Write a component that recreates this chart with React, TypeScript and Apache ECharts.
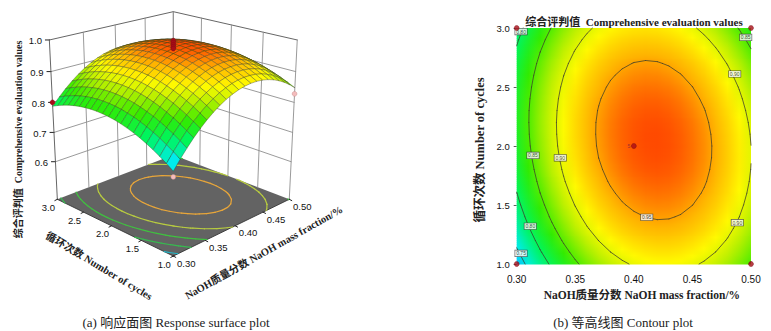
import React, { useEffect, useRef } from "react";
import * as echarts from "echarts";

const naohMass = [0.30,0.31,0.32,0.33,0.34,0.35,0.36,0.37,0.38,0.39,0.40,0.41,0.42,0.43,0.44,0.45,0.46,0.47,0.48,0.49,0.50];
const cycleCount = [1.0,1.1,1.2,1.3,1.4,1.5,1.6,1.7,1.8,1.9,2.0,2.1,2.2,2.3,2.4,2.5,2.6,2.7,2.8,2.9,3.0];
// one row per cycle count, one column per NaOH mass fraction
const evaluation = [
[.7303,.7578,.7829,.8059,.8266,.8450,.8612,.8750,.8866,.8959,.9029,.9076,.9101,.9103,.9082,.9038,.8971,.8882,.8770,.8635,.8477],
[.7449,.7722,.7972,.8200,.8405,.8587,.8747,.8883,.8997,.9088,.9156,.9201,.9224,.9224,.9202,.9156,.9087,.8996,.8882,.8745,.8585],
[.7583,.7854,.8102,.8328,.8532,.8712,.8870,.9004,.9116,.9205,.9272,.9315,.9336,.9334,.9309,.9261,.9190,.9098,.8982,.8843,.8681],
[.7704,.7974,.8220,.8444,.8645,.8824,.8980,.9112,.9222,.9310,.9374,.9415,.9434,.9431,.9404,.9354,.9281,.9187,.9069,.8928,.8764],
[.7813,.8081,.8325,.8548,.8747,.8923,.9078,.9208,.9316,.9402,.9464,.9503,.9521,.9515,.9486,.9435,.9360,.9263,.9144,.9001,.8836],
[.7910,.8175,.8418,.8638,.8836,.9010,.9162,.9291,.9397,.9481,.9541,.9579,.9594,.9587,.9556,.9502,.9426,.9327,.9206,.9061,.8894],
[.7994,.8258,.8498,.8717,.8912,.9085,.9235,.9362,.9466,.9548,.9606,.9642,.9656,.9646,.9614,.9558,.9480,.9379,.9256,.9109,.8940],
[.8066,.8328,.8566,.8783,.8977,.9147,.9296,.9421,.9523,.9603,.9660,.9693,.9705,.9694,.9659,.9602,.9522,.9419,.9294,.9146,.8974],
[.8125,.8385,.8622,.8837,.9028,.9197,.9344,.9467,.9567,.9645,.9700,.9732,.9741,.9728,.9692,.9633,.9550,.9446,.9319,.9169,.8995],
[.8173,.8431,.8665,.8878,.9068,.9235,.9380,.9501,.9599,.9675,.9728,.9758,.9766,.9751,.9713,.9651,.9567,.9461,.9332,.9180,.9005],
[.8207,.8463,.8696,.8907,.9095,.9260,.9403,.9522,.9618,.9692,.9743,.9771,.9777,.9760,.9720,.9657,.9571,.9463,.9332,.9178,.9001],
[.8229,.8483,.8714,.8923,.9109,.9272,.9413,.9530,.9626,.9698,.9747,.9773,.9777,.9758,.9716,.9651,.9563,.9453,.9320,.9164,.8985],
[.8239,.8491,.8721,.8928,.9112,.9273,.9412,.9527,.9621,.9691,.9738,.9762,.9764,.9743,.9699,.9633,.9543,.9431,.9296,.9138,.8957],
[.8237,.8487,.8714,.8919,.9102,.9261,.9398,.9511,.9603,.9671,.9716,.9738,.9739,.9716,.9670,.9601,.9510,.9396,.9259,.9099,.8917],
[.8222,.8470,.8696,.8899,.9079,.9237,.9372,.9483,.9573,.9639,.9682,.9703,.9701,.9676,.9629,.9558,.9464,.9349,.9210,.9048,.8864],
[.8194,.8440,.8664,.8865,.9044,.9199,.9333,.9442,.9530,.9594,.9636,.9654,.9650,.9624,.9574,.9502,.9406,.9289,.9148,.8985,.8798],
[.8154,.8399,.8620,.8820,.8996,.9150,.9282,.9389,.9475,.9537,.9577,.9593,.9588,.9559,.9508,.9434,.9336,.9217,.9074,.8909,.8720],
[.8103,.8345,.8565,.8762,.8937,.9089,.9218,.9324,.9408,.9468,.9506,.9521,.9513,.9483,.9430,.9353,.9254,.9133,.8988,.8821,.8630],
[.8038,.8278,.8496,.8692,.8865,.9014,.9142,.9246,.9328,.9386,.9422,.9435,.9426,.9393,.9338,.9260,.9159,.9035,.8889,.8720,.8528],
[.7961,.8200,.8416,.8610,.8780,.8928,.9054,.9156,.9236,.9293,.9326,.9337,.9326,.9292,.9235,.9155,.9052,.8926,.8778,.8607,.8413],
[.7871,.8108,.8322,.8514,.8683,.8829,.8953,.9053,.9131,.9186,.9218,.9227,.9214,.9178,.9118,.9036,.8931,.8804,.8654,.8481,.8285],
];
const contourLevels = [0.75, 0.80, 0.85, 0.90, 0.95];
const floorContourColors = ["#22b8c8", "#38b850", "#40c040", "#b8cc40", "#e8a63a"];
const naohTicks = [0.30, 0.35, 0.40, 0.45, 0.50];
const cycleTicks = [1.0, 1.5, 2.0, 2.5, 3.0];
const responseTicks = [0.6, 0.7, 0.8, 0.9, 1.0];
const pointNaoh = [0.30, 0.50, 0.30, 0.50, 0.40];
const pointCycles = [3.0, 3.0, 1.0, 1.0, 2.0];
// measured design points visible on the surface plot
const aboveNaoh = [0.30];
const aboveCycles = [3.0];
const aboveResponse = [0.80];
const belowNaoh = [0.50, 0.30];
const belowCycles = [1.0, 1.0];
const belowResponse = [0.828, 0.713];
const centreResponse = [0.998, 0.992, 0.985, 0.979, 0.973];
const labelNaoh = [0.3037, 0.4955, 0.4861, 0.3139, 0.3372, 0.411, 0.4883, 0.3116, 0.3037];
const labelCycles = [2.97, 2.92, 2.61, 1.92, 1.90, 1.396, 1.35, 1.32, 1.09];
const labelLevel = ["0.80", "0.85", "0.90", "0.85", "0.90", "0.95", "0.90", "0.80", "0.75"];

const SERIF = "'Liberation Serif','Noto Sans CJK SC',serif";
const SANS = "'Liberation Sans',Arial,sans-serif";
const Z0 = 0.468;

function project(x: number, y: number, z: number): number[] {
  const a = (x - 0.4) / 0.1, b = y - 2, c = (z - Z0) / (1 - Z0);
  const s = (a - b) / Math.SQRT2, d = (a + b) / Math.SQRT2;
  const w = 1 + 0.0876 * d - 0.0645 * c;
  return [173.3 + (82 * s) / w, (199.3 - 17.7 * d - 161.9 * c) / w];
}

const colorStops: [number, number[]][] = [
  [0.70, [0, 90, 255]],
  [0.745, [0, 235, 255]],
  [0.80, [0, 245, 90]],
  [0.84, [50, 235, 0]],
  [0.885, [190, 240, 0]],
  [0.912, [255, 250, 0]],
  [0.945, [255, 180, 0]],
  [0.985, [255, 50, 0]],
];
function colorAt(z: number): string {
  let k = 0;
  while (k < colorStops.length - 2 && z > colorStops[k + 1][0]) k++;
  const [z0, c0] = colorStops[k];
  const [z1, c1] = colorStops[k + 1];
  const t = Math.max(0, Math.min(1, (z - z0) / (z1 - z0)));
  return `rgb(${c0.map((v, i) => Math.round(v + (c1[i] - v) * t)).join(",")})`;
}

function contourSegments(level: number, levelIndex: number): number[][] {
  const out: number[][] = [];
  for (let j = 0; j < cycleCount.length - 1; j++) {
    for (let i = 0; i < naohMass.length - 1; i++) {
      const corners = [
        [naohMass[i], cycleCount[j], evaluation[j][i]],
        [naohMass[i + 1], cycleCount[j], evaluation[j][i + 1]],
        [naohMass[i + 1], cycleCount[j + 1], evaluation[j + 1][i + 1]],
        [naohMass[i], cycleCount[j + 1], evaluation[j + 1][i]],
      ];
      const hits: number[][] = [];
      for (let e = 0; e < 4; e++) {
        const p = corners[e], q = corners[(e + 1) % 4];
        if (p[2] < level !== q[2] < level) {
          const t = (level - p[2]) / (q[2] - p[2]);
          hits.push([p[0] + (q[0] - p[0]) * t, p[1] + (q[1] - p[1]) * t]);
        }
      }
      if (hits.length === 2) out.push([hits[0][0], hits[0][1], hits[1][0], hits[1][1], levelIndex]);
    }
  }
  return out;
}
const allSegments = contourLevels.flatMap(contourSegments);

const lineEl = (p: number[], q: number[], stroke: string, lineWidth: number) => ({
  type: "line",
  shape: { x1: p[0], y1: p[1], x2: q[0], y2: q[1] },
  style: { stroke, lineWidth, lineCap: "round" },
});

function renderFrame(_: any, api: any) {
  const P = (x: number, y: number, z: number) => api.coord(project(x, y, z));
  const xa = naohTicks[0], xb = naohTicks[4], ya = cycleTicks[0], yb = cycleTicks[4];
  const wall = "#8e8e8e";
  const children: any[] = [
    { type: "polygon", shape: { points: [P(xa, ya, Z0), P(xb, ya, Z0), P(xb, yb, Z0), P(xa, yb, Z0)] }, style: { fill: "#636363" } },
  ];
  responseTicks.forEach((z) => {
    const top = z === 1;
    children.push(lineEl(P(xa, yb, z), P(xb, yb, z), top ? "#555" : wall, 0.9));
    children.push(lineEl(P(xb, yb, z), P(xb, ya, z), top ? "#555" : wall, 0.9));
    children.push(lineEl(P(xa, yb, z), api.coord([project(xa, yb, z)[0] - 4, project(xa, yb, z)[1]]), "#222", 1));
  });
  naohTicks.forEach((x) => children.push(lineEl(P(x, yb, Z0), P(x, yb, 1), x === xa ? "#555" : wall, 0.9)));
  cycleTicks.forEach((y) => children.push(lineEl(P(xb, y, Z0), P(xb, y, 1), wall, 0.9)));
  children.push(lineEl(P(xa, yb, Z0), P(xa, ya, Z0), "#333", 0.9));
  children.push(lineEl(P(xa, ya, Z0), P(xb, ya, Z0), "#333", 0.9));
  naohTicks.forEach((x) => {
    const p = project(x, ya, Z0);
    children.push(lineEl(api.coord(p), api.coord([p[0] + 2.5, p[1] + 1.3]), "#222", 1));
  });
  cycleTicks.forEach((y) => {
    const p = project(xa, y, Z0);
    children.push(lineEl(api.coord(p), api.coord([p[0] - 2.5, p[1] + 1.3]), "#222", 1));
  });
  return { type: "group", children };
}

function renderFloorContour(_: any, api: any) {
  return lineEl(
    api.coord(project(api.value(0), api.value(1), Z0)),
    api.coord(project(api.value(2), api.value(3), Z0)),
    floorContourColors[api.value(4)],
    1.2,
  );
}

function renderFacet(_: any, api: any) {
  const i = api.value(0), j = api.value(1);
  const corners = [[i, j], [i + 1, j], [i + 1, j + 1], [i, j + 1]];
  const mean = corners.reduce((sum, [c, r]) => sum + evaluation[r][c], 0) / 4;
  return {
    type: "polygon",
    shape: { points: corners.map(([c, r]) => api.coord(project(naohMass[c], cycleCount[r], evaluation[r][c]))) },
    style: { fill: colorAt(mean), stroke: "rgba(50,60,25,0.6)", lineWidth: 0.6, lineJoin: "round" },
  };
}

function renderMark(_: any, api: any) {
  const c = api.coord(project(api.value(0), api.value(1), api.value(2)));
  const below = api.value(3) === 1;
  return {
    type: "circle",
    shape: { cx: c[0], cy: c[1], r: 2.4 },
    style: { fill: below ? "#f4bcbc" : "#a80d18", stroke: below ? "#c99090" : "#8a0a12", lineWidth: 0.5 },
  };
}

function renderHeatRow(_: any, api: any) {
  const j = api.value(0);
  const left = api.coord([naohMass[0], cycleCount[0]])[0];
  const right = api.coord([naohMass[20], cycleCount[0]])[0];
  const y0 = api.coord([naohMass[0], cycleCount[j]])[1];
  const y1 = api.coord([naohMass[0], cycleCount[j + 1]])[1];
  const n = 6;
  const children: any[] = [];
  for (let k = 0; k < n; k++) {
    const t = (k + 0.5) / n;
    const a = Math.round(y0 + (y1 - y0) * (k / n));
    const b = Math.round(y0 + (y1 - y0) * ((k + 1) / n));
    const stops = naohMass.map((_m, i) => ({
      offset: i / 20,
      color: colorAt(evaluation[j][i] * (1 - t) + evaluation[j + 1][i] * t),
    }));
    children.push({
      type: "rect",
      shape: { x: left, y: Math.min(a, b), width: right - left, height: Math.abs(b - a) + 0.4 },
      style: { fill: new echarts.graphic.LinearGradient(0, 0, 1, 0, stops) },
    });
  }
  return { type: "group", children };
}

function renderContour(_: any, api: any) {
  return lineEl(api.coord([api.value(0), api.value(1)]), api.coord([api.value(2), api.value(3)]), "#3c3c2c", 0.75);
}

const tickText = (text: string, at: number[], dx: number, dy: number) => ({
  type: "text",
  x: at[0] + dx,
  y: at[1] + dy,
  style: { text, font: `9.5px ${SANS}`, fill: "#111", align: "center", verticalAlign: "middle" },
});
const freeText = (text: string, x: number, y: number, size: number, rotation = 0, weight = "bold") => ({
  type: "text",
  x,
  y,
  rotation,
  style: { text, font: `${weight} ${size}px ${SERIF}`, fill: "#222", align: "center", verticalAlign: "middle" },
});

export default function App() {
  const ref = useRef<HTMLDivElement>(null);
  useEffect(() => {
    document.body.style.margin = "0";
    const chart = echarts.init(ref.current!, undefined, { renderer: "svg" });
    const facets: number[][] = [];
    for (let j = 0; j < 20; j++) for (let i = 0; i < 20; i++) facets.push([i, j]);
    facets.sort((p, q) => q[0] + q[1] - (p[0] + p[1]));
    const pixelAxis = { type: "value", show: false, splitLine: { show: false } };
    const on3d = { type: "custom", xAxisIndex: 0, yAxisIndex: 0, silent: true, clip: false };
    const on2d = { xAxisIndex: 1, yAxisIndex: 1, silent: true };
    const marks = [
      ...centreResponse.map((z) => [0.4, 2.0, z, 0]),
      ...aboveResponse.map((z, i) => [aboveNaoh[i], aboveCycles[i], z, 0]),
      ...belowResponse.map((z, i) => [belowNaoh[i], belowCycles[i], z, 1]),
    ];
    chart.setOption({
      animation: false,
      backgroundColor: "#fff",
      grid: [
        { left: 0, top: 0, width: 771, height: 331, show: false },
        { left: 516.7, top: 28, width: 234.3, height: 236, show: false },
      ],
      xAxis: [
        { ...pixelAxis, gridIndex: 0, min: 0, max: 771 },
        {
          type: "value", gridIndex: 1, min: 0.3, max: 0.5, interval: 0.05,
          name: "NaOH质量分数 NaOH mass fraction/%", nameLocation: "middle", nameGap: 24,
          nameTextStyle: { fontFamily: SERIF, fontWeight: "bold", fontSize: 11.5, color: "#222", padding: [0, 0, 0, 16] },
          splitLine: { show: false }, axisLine: { show: false }, axisTick: { show: false },
          axisLabel: { margin: 10, fontFamily: SANS, fontSize: 10, color: "#111", formatter: (v: number) => v.toFixed(2) },
        },
      ],
      yAxis: [
        { ...pixelAxis, gridIndex: 0, min: 0, max: 331, inverse: true },
        {
          type: "value", gridIndex: 1, min: 1, max: 3, interval: 0.5,
          name: "循环次数 Number of cycles", nameLocation: "middle", nameGap: 30,
          nameTextStyle: { fontFamily: SERIF, fontWeight: "bold", fontSize: 12.5, color: "#222", padding: [0, 8, 0, 0] },
          splitLine: { show: false }, axisLine: { show: false },
          axisTick: { show: true, length: 3, lineStyle: { color: "#333", width: 0.8 } },
          axisLabel: { margin: 7, fontFamily: SANS, fontSize: 9.5, color: "#111", formatter: (v: number) => v.toFixed(1) },
        },
      ],
      series: [
        { ...on3d, renderItem: renderFrame, data: [[0, 0]] },
        { ...on3d, renderItem: renderFloorContour, data: allSegments },
        { ...on3d, renderItem: renderFacet, data: facets },
        { ...on3d, renderItem: renderMark, data: marks },
        { ...on2d, type: "custom", renderItem: renderHeatRow, data: cycleCount.slice(0, 20).map((_c, j) => [j, 0]), encode: { x: 1, y: 1 } },
        { ...on2d, type: "custom", renderItem: renderContour, data: allSegments },
        {
          ...on2d, type: "scatter", symbol: "circle", symbolSize: 5,
          itemStyle: { color: "#a80d18", borderColor: "#7a0a10", borderWidth: 0.5 },
          data: pointNaoh.map((x, i) => [x, pointCycles[i]]),
          clip: false, z: 6,
        },
        {
          ...on2d, type: "scatter", symbolSize: 0, z: 5,
          data: labelNaoh.map((x, i) => ({ value: [x, labelCycles[i]], name: labelLevel[i] })),
          label: {
            show: true, position: "inside", formatter: "{b}", fontFamily: SANS, fontSize: 5, color: "#111",
            backgroundColor: "#fff", borderColor: "#333", borderWidth: 0.6, padding: [0.5, 1],
          },
        },
      ],
      graphic: [
        ...responseTicks.map((z) => tickText(z.toFixed(1), project(0.3, 3, z), -14, 1)),
        ...cycleTicks.map((y) => tickText(y.toFixed(1), project(0.3, y, Z0), -9, 8)),
        ...naohTicks.map((x) => tickText(x.toFixed(2), project(x, 1, Z0), 13, 7)),
        freeText("综合评判值  Comprehensive evaluation values", 18.5, 139.5, 10, Math.PI / 2),
        freeText("循环次数 Number of cycles", 99, 266, 10.5, -0.54),
        freeText("NaOH质量分数 NaOH mass fraction/%", 264, 252.5, 10.5, 0.513),
        freeText("(a) 响应面图 Response surface plot", 176, 322, 13, 0, "normal"),
        freeText("综合评判值  Comprehensive evaluation values", 634, 21.5, 11),
        freeText("(b) 等高线图 Contour plot", 623, 322, 13, 0, "normal"),
        { type: "text", x: 629, y: 146, style: { text: "5", font: `5px ${SANS}`, fill: "#a03030", align: "center", verticalAlign: "middle" } },
      ].map((e) => ({ ...e, z: 20 })),
    });
    return () => chart.dispose();
  }, []);
  return <div ref={ref} style={{ width: 771, height: 331 }} />;
}
